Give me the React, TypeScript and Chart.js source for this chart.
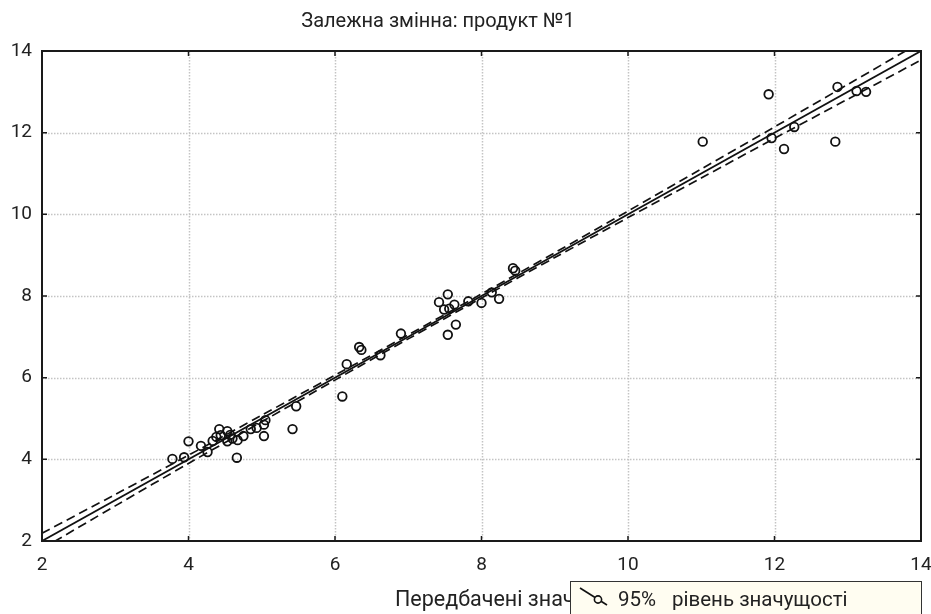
import React, { useEffect, useRef } from "react";
import { Chart, registerables } from "chart.js";

Chart.register(...registerables);

const titleText = "Залежна змінна: продукт №1";
const xTitleText = "Передбачені значення";
const legendPct = "95%";
const legendText = "рівень значущості";

const xTicks = [2, 4, 6, 8, 10, 12, 14];
const yTicks = [2, 4, 6, 8, 10, 12, 14];

const predicted = [
  3.78, 3.94, 4.0, 4.17, 4.26, 4.33, 4.38, 4.42, 4.44, 4.53, 4.57, 4.53, 4.6, 4.67, 4.75, 4.66,
  4.85, 4.93, 5.03, 5.03, 5.05, 5.42, 5.47, 6.1, 6.16, 6.33, 6.36, 6.62, 6.9, 7.42, 7.54, 7.49,
  7.56, 7.63, 7.65, 7.54, 7.82, 8.0, 8.14, 8.24, 8.43, 8.46, 11.02, 11.92, 11.96, 12.13, 12.27,
  12.83, 12.86, 13.12, 13.25,
];
const observed = [
  4.01, 4.05, 4.44, 4.33, 4.18, 4.45, 4.55, 4.74, 4.59, 4.69, 4.6, 4.44, 4.51, 4.47, 4.57, 4.04,
  4.74, 4.77, 4.85, 4.57, 4.96, 4.74, 5.3, 5.54, 6.33, 6.75, 6.68, 6.55, 7.08, 7.85, 8.04, 7.67,
  7.69, 7.79, 7.3, 7.05, 7.87, 7.83, 8.09, 7.93, 8.68, 8.62, 11.78, 12.94, 11.87, 11.6, 12.14,
  11.78, 13.12, 13.02, 13.0,
];

const fitX = [2, 14];
const fitY = [2, 14];

const bandX = [2, 3, 4, 5, 6, 7, 8, 9, 10, 11, 12, 13, 14];
const bandUpper = [2.19, 3.14, 4.1, 5.08, 6.06, 7.05, 8.05, 9.06, 10.08, 11.11, 12.14, 13.18, 14.22];
const bandLower = [1.81, 2.86, 3.9, 4.92, 5.94, 6.95, 7.95, 8.94, 9.92, 10.89, 11.86, 12.82, 13.78];

const FONT = "Roboto, 'Liberation Sans', Arial, sans-serif";

const decorPlugin = {
  id: "decor",
  beforeDatasetsDraw(chart: any) {
    const { ctx, chartArea, scales } = chart;
    const xs = scales.x;
    const ys = scales.y;
    ctx.save();
    ctx.strokeStyle = "#c4c4c4";
    ctx.lineWidth = 1.5;
    ctx.setLineDash([1.5, 1.5]);
    xTicks.forEach((t) => {
      const px = Math.round(xs.getPixelForValue(t)) + 0.5;
      if (px <= chartArea.left + 2 || px >= chartArea.right - 2) return;
      ctx.beginPath();
      ctx.moveTo(px, chartArea.top);
      ctx.lineTo(px, chartArea.bottom);
      ctx.stroke();
    });
    yTicks.forEach((t) => {
      const py = Math.round(ys.getPixelForValue(t)) + 0.5;
      if (py <= chartArea.top + 2 || py >= chartArea.bottom - 2) return;
      ctx.beginPath();
      ctx.moveTo(chartArea.left, py);
      ctx.lineTo(chartArea.right, py);
      ctx.stroke();
    });
    ctx.restore();
  },
  afterDraw(chart: any) {
    const { ctx, chartArea, scales } = chart;
    const xs = scales.x;
    const ys = scales.y;
    ctx.save();
    ctx.strokeStyle = "#1a1a1a";
    ctx.lineWidth = 2;
    ctx.setLineDash([]);
    ctx.strokeRect(chartArea.left, chartArea.top, chartArea.right - chartArea.left, chartArea.bottom - chartArea.top);
    ctx.lineWidth = 1.5;
    const tl = 5;
    xTicks.forEach((t) => {
      const px = xs.getPixelForValue(t);
      ctx.beginPath();
      ctx.moveTo(px, chartArea.bottom);
      ctx.lineTo(px, chartArea.bottom - tl);
      ctx.moveTo(px, chartArea.top);
      ctx.lineTo(px, chartArea.top + tl);
      ctx.stroke();
    });
    yTicks.forEach((t) => {
      const py = ys.getPixelForValue(t);
      ctx.beginPath();
      ctx.moveTo(chartArea.left, py);
      ctx.lineTo(chartArea.left + tl, py);
      ctx.moveTo(chartArea.right, py);
      ctx.lineTo(chartArea.right - tl, py);
      ctx.stroke();
    });

    // x tick labels
    ctx.fillStyle = "#222";
    ctx.font = `19px ${FONT}`;
    ctx.textAlign = "center";
    ctx.textBaseline = "middle";
    xTicks.forEach((t) => {
      ctx.fillText(String(t), xs.getPixelForValue(t), 565);
    });

    // title
    ctx.font = `20px ${FONT}`;
    ctx.fillText(titleText, 438, 22);

    // x-axis title
    ctx.font = `21.5px ${FONT}`;
    ctx.textAlign = "left";
    ctx.fillText(xTitleText, 395, 601);

    // legend box
    ctx.fillStyle = "#fffdf1";
    ctx.fillRect(570, 581, 352, 40);
    ctx.strokeStyle = "#333";
    ctx.lineWidth = 1;
    ctx.strokeRect(570.5, 581.5, 351, 40);
    ctx.lineWidth = 1.6;
    ctx.strokeStyle = "#111";
    ctx.beginPath();
    ctx.moveTo(580, 588);
    ctx.lineTo(607, 605);
    ctx.stroke();
    ctx.fillStyle = "#fffdf1";
    ctx.beginPath();
    ctx.arc(598, 599.5, 3.6, 0, Math.PI * 2);
    ctx.fill();
    ctx.stroke();
    ctx.fillStyle = "#222";
    ctx.font = `20.5px ${FONT}`;
    ctx.textAlign = "left";
    ctx.fillText(legendPct, 618, 601);
    ctx.fillText(legendText, 672, 601);
    ctx.restore();
  },
};

export default function App() {
  const ref = useRef<HTMLCanvasElement | null>(null);

  useEffect(() => {
    if (!ref.current) return;
    const pts = predicted.map((x, i) => ({ x, y: observed[i] }));
    const fit = fitX.map((x, i) => ({ x, y: fitY[i] }));
    const up = bandX.map((x, i) => ({ x, y: bandUpper[i] }));
    const lo = bandX.map((x, i) => ({ x, y: bandLower[i] }));

    const chart = new Chart(ref.current, {
      type: "scatter",
      data: {
        datasets: [
          {
            label: "points",
            data: pts,
            pointRadius: 4.3,
            pointBorderWidth: 1.8,
            pointBorderColor: "#111",
            pointBackgroundColor: "rgba(0,0,0,0)",
            showLine: false,
          },
          {
            label: "fit",
            data: fit,
            showLine: true,
            borderColor: "#111",
            borderWidth: 1.8,
            pointRadius: 0,
          },
          {
            label: "upper",
            data: up,
            showLine: true,
            borderColor: "#111",
            borderWidth: 1.7,
            borderDash: [9, 5],
            pointRadius: 0,
            tension: 0.3,
          },
          {
            label: "lower",
            data: lo,
            showLine: true,
            borderColor: "#111",
            borderWidth: 1.7,
            borderDash: [9, 5],
            pointRadius: 0,
            tension: 0.3,
          },
        ],
      },
      options: {
        animation: false,
        responsive: false,
        maintainAspectRatio: false,
        layout: { padding: { top: 51, right: 10, left: 0, bottom: 0 } },
        plugins: {
          legend: { display: false },
          title: { display: false },
          tooltip: { enabled: false },
        },
        scales: {
          x: {
            type: "linear",
            min: 2,
            max: 14,
            afterBuildTicks: (scale: any) => {
              scale.ticks = xTicks.map((v) => ({ value: v }));
            },
            afterFit: (scale: any) => {
              scale.height = 73;
            },
            grid: { display: false, drawTicks: false },
            border: { display: false },
            ticks: { display: false },
          },
          y: {
            type: "linear",
            min: 2,
            max: 14,
            afterBuildTicks: (scale: any) => {
              scale.ticks = yTicks.map((v) => ({ value: v }));
            },
            afterFit: (scale: any) => {
              scale.width = 42;
            },
            grid: { display: false, drawTicks: false },
            border: { display: false },
            ticks: {
              color: "#222",
              font: { size: 19, family: FONT },
              padding: 10,
              autoSkip: false,
            },
          },
        },
      },
      plugins: [decorPlugin],
    });
    return () => chart.destroy();
  }, []);

  return (
    <div style={{ position: "fixed", left: 0, top: 0, width: 931, height: 614, background: "#fff" }}>
      <canvas ref={ref} width={931} height={614} style={{ display: "block" }} />
    </div>
  );
}
